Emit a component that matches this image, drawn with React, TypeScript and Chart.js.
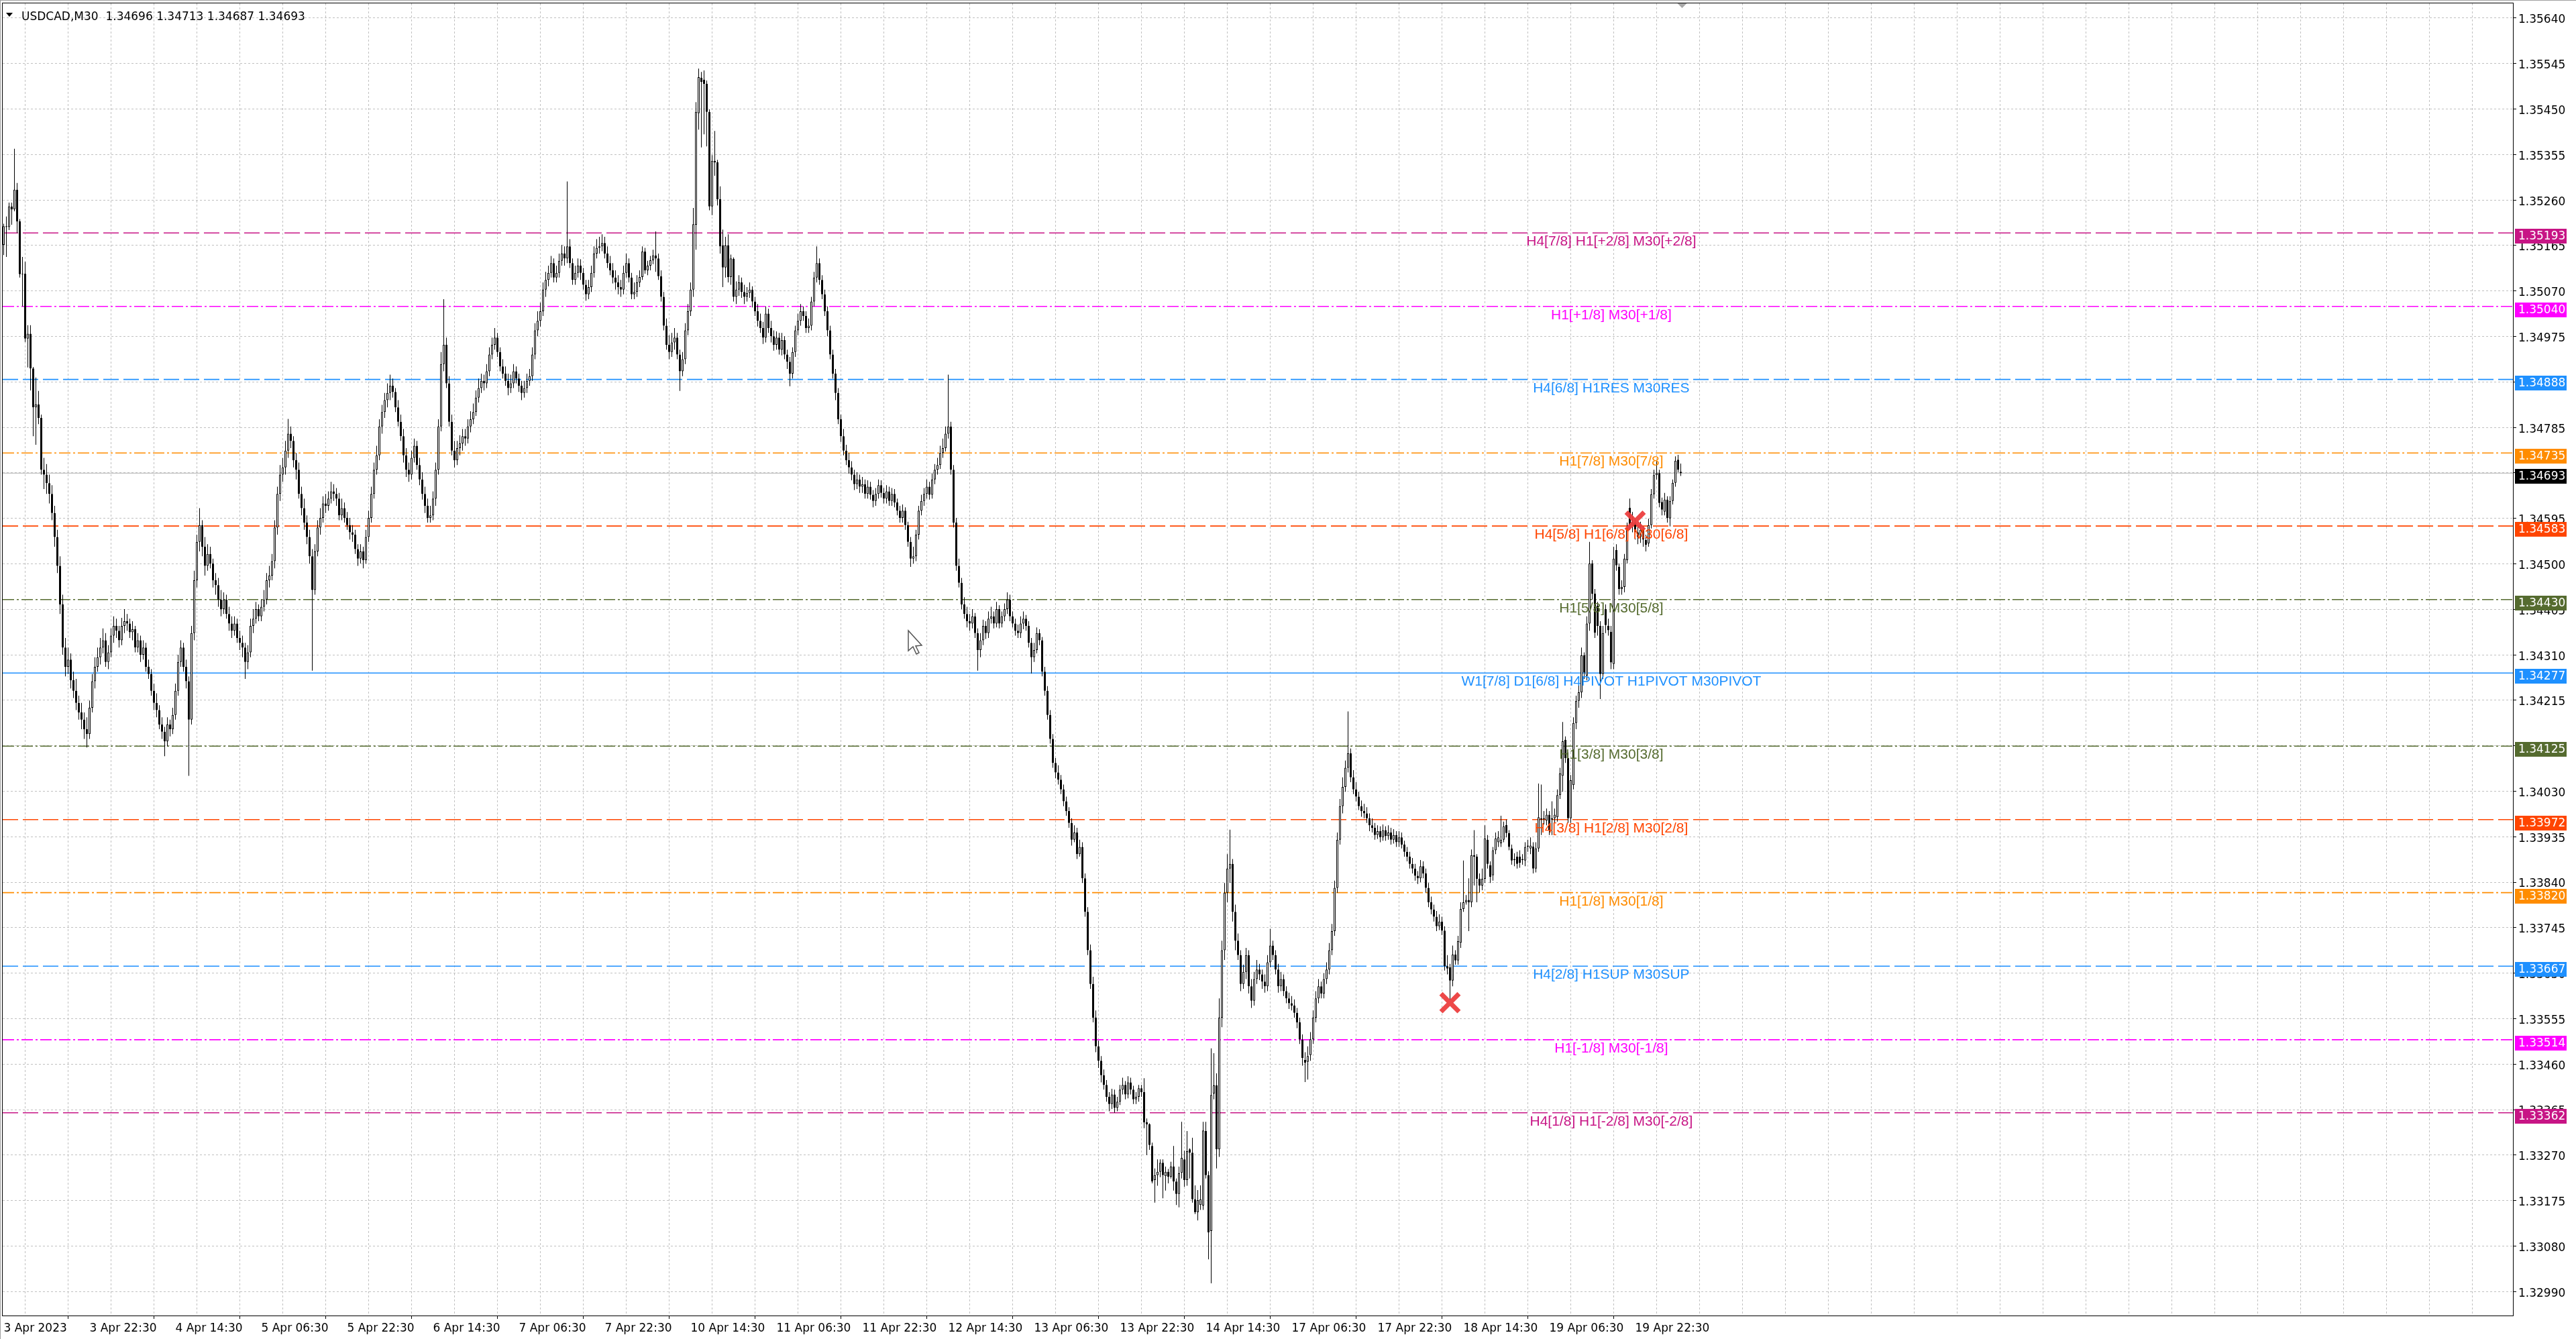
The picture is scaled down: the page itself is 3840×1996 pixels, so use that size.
import React, { useEffect, useRef } from "react";
import { Chart, registerables } from "chart.js";

Chart.register(...registerables);

// ---------------- DATA ----------------
const SYMBOL = "USDCAD,M30";
const PRICE_BASE = 1.3; // prices below are in points (1e-5) above 1.30000
const POINT = 0.00001;

// time-axis labels, one every 32 bars (16 hours of M30 bars)
const timeLabels = [
  "3 Apr 2023", "3 Apr 22:30", "4 Apr 14:30", "5 Apr 06:30", "5 Apr 22:30",
  "6 Apr 14:30", "7 Apr 06:30", "7 Apr 22:30", "10 Apr 14:30", "11 Apr 06:30",
  "11 Apr 22:30", "12 Apr 14:30", "13 Apr 06:30", "13 Apr 22:30", "14 Apr 14:30",
  "17 Apr 06:30", "17 Apr 22:30", "18 Apr 14:30", "19 Apr 06:30", "19 Apr 22:30",
];

// price-axis labels, top to bottom
const priceTickLabels = [
  "1.35640", "1.35545", "1.35450", "1.35355", "1.35260", "1.35165", "1.35070",
  "1.34975", "1.34880", "1.34785", "1.34690", "1.34595", "1.34500", "1.34405",
  "1.34310", "1.34215", "1.34120", "1.34030", "1.33935", "1.33840", "1.33745",
  "1.33650", "1.33555", "1.33460", "1.33365", "1.33270", "1.33175", "1.33080",
  "1.32990",
];

const opens = [
  5168,5207,5205,5248,5242,5283,5217,5107,5108,4973,
  4983,4911,4830,4836,4808,4700,4690,4672,4650,4610,
  4560,4500,4420,4330,4290,4305,4262,4240,4215,4195,
  4180,4160,4150,4205,4260,4290,4310,4330,4345,4300,
  4320,4355,4375,4365,4345,4375,4385,4380,4362,4368,
  4330,4345,4315,4330,4290,4275,4240,4215,4200,4170,
  4155,4135,4170,4160,4190,4240,4300,4330,4290,4260,
  4180,4360,4470,4550,4585,4540,4500,4525,4505,4470,
  4460,4430,4410,4430,4400,4380,4365,4380,4350,4340,
  4330,4300,4320,4375,4390,4410,4395,4415,4430,4470,
  4480,4510,4580,4650,4690,4705,4740,4775,4760,4720,
  4700,4650,4620,4590,4560,4520,4450,4530,4580,4600,
  4630,4625,4640,4655,4650,4640,4605,4620,4600,4585,
  4570,4565,4535,4515,4530,4512,4560,4600,4650,4700,
  4730,4790,4820,4845,4860,4875,4862,4830,4800,4770,
  4730,4700,4690,4725,4750,4710,4680,4650,4625,4600,
  4605,4640,4700,4790,4920,4960,4880,4800,4740,4720,
  4745,4755,4770,4765,4790,4805,4820,4850,4870,4885,
  4880,4905,4940,4960,4975,4945,4915,4900,4885,4870,
  4880,4905,4890,4875,4860,4870,4885,4895,4940,4990,
  5010,5030,5075,5095,5110,5130,5100,5110,5135,5150,
  5140,5165,5130,5095,5110,5125,5110,5085,5065,5080,
  5110,5150,5162,5165,5172,5150,5130,5115,5100,5090,
  5080,5075,5110,5130,5100,5065,5070,5090,5101,5154,
  5115,5125,5136,5146,5140,5103,5060,5000,4960,4945,
  4965,4975,4940,4905,4930,4990,5030,5075,5210,5442,
  5516,5512,5503,5445,5248,5343,5340,5263,5167,5121,
  5167,5101,5139,5060,5075,5090,5070,5060,5068,5075,
  5050,5030,5010,4995,4975,5025,4995,4978,4960,4975,
  4950,4970,4940,4925,4900,4945,4990,5010,5030,5020,
  4995,5000,5050,5100,5130,5095,5065,5030,4990,4940,
  4900,4860,4805,4770,4740,4720,4705,4690,4670,4680,
  4665,4670,4650,4665,4648,4635,4650,4668,4652,4640,
  4655,4635,4650,4632,4615,4600,4615,4585,4550,4515,
  4520,4565,4615,4635,4650,4665,4648,4680,4700,4710,
  4735,4745,4775,4790,4700,4590,4500,4465,4420,4400,
  4385,4380,4395,4360,4325,4345,4375,4360,4390,4395,
  4380,4410,4380,4395,4410,4430,4395,4380,4365,4360,
  4380,4390,4375,4340,4310,4325,4360,4345,4280,4240,
  4190,4140,4090,4070,4055,4035,4010,3990,3965,3930,
  3945,3900,3915,3850,3780,3700,3630,3560,3500,3470,
  3440,3420,3395,3380,3400,3372,3385,3410,3420,3400,
  3425,3410,3390,3395,3413,3405,3342,3338,3293,3222,
  3232,3239,3258,3230,3239,3229,3250,3219,3193,3237,
  3265,3222,3286,3279,3182,3155,3170,3169,3324,3232,
  3116,3402,3419,3286,3560,3700,3820,3870,3880,3780,
  3720,3690,3630,3655,3690,3625,3595,3640,3660,3650,
  3635,3625,3675,3710,3690,3660,3625,3640,3615,3600,
  3590,3585,3570,3550,3514,3472,3468,3482,3515,3560,
  3600,3625,3610,3640,3660,3700,3740,3830,3930,4000,
  4040,4080,4110,4060,4035,4020,4000,3990,3985,3975,
  3960,3955,3940,3948,3935,3950,3938,3945,3930,3940,
  3925,3935,3920,3905,3895,3880,3870,3855,3850,3875,
  3860,3830,3800,3785,3770,3750,3760,3741,3667,3665,
  3637,3691,3679,3716,3786,3800,3805,3800,3898,3895,
  3849,3835,3849,3930,3877,3856,3908,3925,3923,3930,
  3961,3944,3912,3890,3895,3895,3888,3887,3918,3912,
  3916,3870,3912,3975,3973,3970,3982,3975,3975,3977,
  4023,4063,4138,4100,3975,4044,4173,4219,4237,4314,
  4272,4380,4505,4442,4417,4375,4275,4410,4375,4363,
  4296,4533,4498,4452,4456,4512,4621,4585,4590,4570,
  4560,4575,4554,4547,4585,4649,4689,4693,4633,4613,
  4638,4599,4635,4673,4721,4696,
];

const highs = [
  5212,5227,5256,5256,5368,5297,5222,5143,5133,5001,
  5001,4914,4892,4864,4815,4725,4712,4690,4668,4625,
  4575,4520,4440,4350,4330,4318,4280,4265,4230,4215,
  4195,4185,4220,4275,4310,4330,4350,4370,4360,4335,
  4370,4395,4390,4375,4392,4410,4400,4390,4385,4375,
  4360,4355,4345,4340,4305,4285,4255,4235,4210,4185,
  4165,4185,4180,4205,4255,4315,4345,4340,4305,4270,
  4375,4490,4565,4620,4595,4560,4545,4540,4515,4485,
  4475,4450,4445,4440,4415,4395,4395,4390,4365,4355,
  4340,4335,4390,4410,4425,4420,4430,4450,4485,4500,
  4525,4595,4665,4710,4725,4760,4806,4790,4770,4735,
  4715,4665,4640,4605,4575,4535,4545,4595,4620,4645,
  4650,4655,4675,4670,4662,4652,4640,4632,4612,4600,
  4585,4575,4545,4545,4540,4575,4615,4665,4715,4750,
  4805,4835,4860,4880,4898,4890,4870,4845,4815,4785,
  4745,4715,4740,4765,4760,4725,4695,4665,4640,4625,
  4655,4715,4805,4945,5055,4975,4895,4815,4760,4760,
  4772,4785,4785,4805,4822,4838,4865,4890,4900,4898,
  4920,4955,4975,4995,4985,4955,4930,4915,4900,4898,
  4920,4915,4900,4885,4885,4900,4910,4955,5005,5030,
  5048,5090,5112,5125,5145,5140,5125,5150,5168,5165,
  5300,5180,5140,5125,5140,5138,5120,5095,5095,5125,
  5165,5180,5185,5190,5185,5165,5145,5130,5115,5105,
  5095,5125,5150,5140,5110,5090,5105,5115,5165,5162,
  5135,5145,5158,5196,5150,5115,5070,5015,4980,4985,
  4995,4985,4950,4945,5005,5045,5090,5245,5465,5535,
  5528,5531,5510,5450,5355,5405,5345,5290,5200,5185,
  5190,5148,5142,5092,5105,5100,5085,5080,5090,5082,
  5060,5045,5025,5008,5040,5035,5010,4990,4988,4985,
  4985,4978,4950,4935,4955,5000,5025,5045,5040,5030,
  5015,5060,5112,5165,5140,5105,5075,5040,5000,4950,
  4910,4870,4815,4785,4752,4735,4718,4700,4695,4690,
  4685,4680,4678,4675,4658,4662,4680,4678,4662,4668,
  4665,4662,4660,4640,4625,4628,4622,4592,4560,4540,
  4575,4625,4648,4662,4680,4675,4692,4712,4725,4750,
  4765,4790,4898,4800,4710,4600,4515,4475,4435,4415,
  4400,4410,4402,4370,4360,4388,4385,4405,4415,4405,
  4425,4418,4405,4422,4445,4440,4405,4390,4378,4395,
  4405,4398,4385,4350,4340,4372,4368,4352,4290,4250,
  4200,4150,4100,4085,4065,4045,4020,3998,3975,3960,
  3955,3930,3925,3860,3790,3712,3645,3575,3512,3480,
  3452,3430,3405,3412,3410,3395,3420,3435,3428,3438,
  3435,3418,3405,3420,3420,3434,3350,3340,3300,3246,
  3265,3265,3265,3250,3245,3260,3293,3225,3250,3343,
  3283,3324,3288,3310,3211,3201,3211,3343,3343,3240,
  3496,3486,3444,3600,3720,3840,3900,3951,3890,3795,
  3735,3700,3670,3705,3700,3640,3655,3680,3672,3660,
  3650,3690,3745,3720,3700,3672,3655,3650,3625,3612,
  3605,3598,3580,3560,3525,3488,3500,3530,3575,3615,
  3640,3635,3652,3675,3715,3755,3845,3945,4015,4060,
  4095,4197,4120,4075,4050,4030,4012,4005,3998,3985,
  3975,3965,3960,3958,3962,3958,3960,3955,3952,3948,
  3948,3945,3928,3915,3905,3892,3880,3865,3888,3885,
  3870,3840,3812,3795,3782,3775,3770,3750,3690,3672,
  3710,3700,3730,3800,3887,3815,3850,3910,3950,3900,
  3860,3870,3960,3940,3885,3915,3945,3948,3980,3968,
  3972,3950,3920,3902,3905,3908,3900,3925,3930,3935,
  3925,3925,4047,4045,3990,3995,3990,4010,3995,4035,
  4080,4175,4145,4112,4065,4185,4230,4260,4330,4320,
  4395,4550,4512,4452,4425,4385,4375,4420,4390,4375,
  4540,4545,4505,4470,4525,4590,4640,4612,4598,4585,
  4592,4582,4565,4598,4660,4700,4718,4700,4642,4652,
  4645,4645,4680,4728,4731,4713,
];

const lows = [
  5147,5143,5199,5210,5238,5193,5100,5040,4966,4913,
  4865,4770,4752,4795,4690,4660,4650,4630,4595,4540,
  4485,4400,4315,4270,4275,4245,4225,4200,4180,4160,
  4140,4122,4140,4195,4245,4280,4295,4318,4290,4285,
  4310,4340,4350,4330,4335,4360,4365,4350,4345,4320,
  4320,4300,4305,4280,4265,4230,4200,4185,4160,4140,
  4104,4125,4145,4150,4180,4230,4290,4280,4245,4063,
  4170,4345,4455,4530,4520,4480,4490,4495,4455,4440,
  4415,4395,4400,4390,4365,4350,4355,4340,4325,4310,
  4265,4285,4310,4360,4380,4385,4385,4405,4420,4455,
  4470,4495,4565,4635,4675,4690,4725,4745,4705,4680,
  4640,4605,4575,4545,4505,4282,4440,4520,4565,4590,
  4610,4615,4630,4635,4625,4595,4595,4590,4575,4555,
  4550,4525,4500,4505,4495,4505,4550,4590,4640,4690,
  4720,4775,4808,4830,4845,4850,4820,4790,4760,4715,
  4685,4675,4680,4715,4700,4668,4638,4610,4590,4590,
  4595,4625,4690,4780,4905,4870,4790,4730,4705,4710,
  4730,4740,4750,4755,4778,4795,4812,4840,4860,4865,
  4870,4895,4930,4950,4935,4905,4890,4875,4855,4860,
  4870,4880,4862,4845,4850,4860,4875,4885,4930,4978,
  4998,5020,5060,5082,5100,5090,5090,5100,5125,5125,
  5130,5120,5085,5085,5100,5095,5075,5052,5055,5070,
  5100,5140,5150,5155,5140,5120,5105,5088,5075,5065,
  5060,5065,5100,5090,5055,5055,5060,5080,5095,5108,
  5105,5115,5128,5112,5095,5050,4990,4950,4930,4935,
  4950,4930,4864,4895,4920,4980,5020,5060,5158,5408,
  5371,5398,5373,5240,5230,5312,5250,5150,5080,5100,
  5090,5085,5050,5045,5062,5058,5045,5050,5058,5038,
  5020,4998,4985,4962,4965,4985,4965,4948,4950,4940,
  4938,4930,4910,4874,4890,4935,4980,5000,5010,4985,
  4985,4990,5040,5090,5085,5055,5020,4978,4930,4890,
  4845,4795,4758,4730,4710,4692,4678,4658,4660,4652,
  4652,4640,4640,4638,4622,4625,4640,4642,4630,4630,
  4625,4625,4622,4605,4590,4590,4575,4540,4498,4505,
  4510,4555,4605,4625,4640,4638,4640,4670,4690,4702,
  4725,4738,4765,4690,4580,4490,4455,4410,4390,4372,
  4365,4370,4350,4282,4310,4335,4348,4350,4380,4370,
  4372,4370,4372,4385,4400,4385,4372,4355,4350,4350,
  4368,4365,4330,4276,4300,4318,4335,4270,4230,4180,
  4130,4080,4058,4045,4025,4000,3980,3955,3918,3925,
  3890,3895,3840,3770,3690,3620,3550,3488,3455,3425,
  3410,3385,3365,3370,3362,3365,3378,3400,3390,3392,
  3400,3380,3380,3385,3395,3330,3274,3285,3215,3175,
  3210,3228,3184,3200,3215,3225,3200,3170,3165,3225,
  3208,3210,3225,3175,3151,3138,3160,3160,3225,3057,
  3007,3390,3246,3270,3540,3680,3800,3840,3760,3700,
  3680,3615,3620,3640,3610,3580,3585,3630,3638,3620,
  3612,3615,3665,3680,3650,3612,3615,3605,3590,3578,
  3575,3560,3538,3505,3460,3426,3431,3470,3505,3550,
  3590,3600,3600,3630,3650,3690,3730,3820,3920,3985,
  4030,4070,4050,4025,4010,3992,3978,3975,3965,3948,
  3945,3930,3932,3925,3928,3928,3930,3920,3922,3915,
  3915,3912,3895,3885,3870,3860,3845,3838,3842,3850,
  3820,3790,3775,3760,3740,3742,3732,3658,3650,3598,
  3625,3670,3670,3705,3780,3795,3740,3790,3835,3800,
  3820,3825,3840,3870,3840,3845,3900,3915,3915,3925,
  3935,3908,3878,3875,3870,3872,3878,3875,3905,3900,
  3860,3862,3905,3940,3962,3960,3940,3940,3965,3968,
  4015,4030,4090,3965,3965,4035,4160,4205,4225,4265,
  4262,4365,4430,4350,4355,4223,4265,4360,4355,4285,
  4285,4490,4440,4440,4445,4505,4575,4570,4555,4545,
  4548,4540,4530,4540,4578,4640,4680,4622,4605,4605,
  4590,4582,4628,4665,4695,4687,
];

const closes = [
  5207,5205,5248,5242,5283,5217,5107,5108,4973,4983,
  4911,4830,4836,4808,4700,4690,4672,4650,4610,4560,
  4500,4420,4330,4290,4305,4262,4240,4215,4195,4180,
  4160,4150,4205,4260,4290,4310,4330,4345,4300,4320,
  4355,4375,4365,4345,4375,4385,4380,4362,4368,4330,
  4345,4315,4330,4290,4275,4240,4215,4200,4170,4155,
  4135,4170,4160,4190,4240,4300,4330,4290,4260,4180,
  4360,4470,4550,4585,4540,4500,4525,4505,4470,4460,
  4430,4410,4430,4400,4380,4365,4380,4350,4340,4330,
  4300,4320,4375,4390,4410,4395,4415,4430,4470,4480,
  4510,4580,4650,4690,4705,4740,4775,4760,4720,4700,
  4650,4620,4590,4560,4520,4450,4530,4580,4600,4630,
  4625,4640,4655,4650,4640,4605,4620,4600,4585,4570,
  4565,4535,4515,4530,4512,4560,4600,4650,4700,4730,
  4790,4820,4845,4860,4875,4862,4830,4800,4770,4730,
  4700,4690,4725,4750,4710,4680,4650,4625,4600,4605,
  4640,4700,4790,4920,4960,4880,4800,4740,4720,4745,
  4755,4770,4765,4790,4805,4820,4850,4870,4885,4880,
  4905,4940,4960,4975,4945,4915,4900,4885,4870,4880,
  4905,4890,4875,4860,4870,4885,4895,4940,4990,5010,
  5030,5075,5095,5110,5130,5100,5110,5135,5150,5140,
  5165,5130,5095,5110,5125,5110,5085,5065,5080,5110,
  5150,5162,5165,5172,5150,5130,5115,5100,5090,5080,
  5075,5110,5130,5100,5065,5070,5090,5101,5154,5115,
  5125,5136,5146,5140,5103,5060,5000,4960,4945,4965,
  4975,4940,4905,4930,4990,5030,5075,5211,5445,5517,
  5507,5503,5445,5248,5343,5340,5263,5165,5121,5167,
  5101,5140,5060,5075,5090,5070,5060,5068,5075,5050,
  5030,5010,4995,4975,5025,4995,4978,4960,4975,4950,
  4970,4940,4925,4900,4945,4990,5010,5030,5020,4995,
  5000,5050,5100,5130,5095,5065,5030,4990,4940,4900,
  4860,4805,4770,4740,4720,4705,4690,4670,4680,4665,
  4670,4650,4665,4648,4635,4650,4668,4652,4640,4655,
  4635,4650,4632,4615,4600,4615,4585,4550,4515,4520,
  4565,4615,4635,4650,4665,4648,4680,4700,4710,4735,
  4745,4775,4790,4700,4590,4500,4465,4420,4400,4385,
  4380,4395,4360,4325,4345,4375,4360,4390,4395,4380,
  4410,4380,4395,4410,4430,4395,4380,4365,4360,4380,
  4390,4375,4340,4310,4325,4360,4345,4280,4240,4190,
  4140,4090,4070,4055,4035,4010,3990,3965,3930,3945,
  3900,3915,3850,3780,3700,3630,3560,3500,3470,3440,
  3420,3395,3380,3400,3372,3385,3410,3420,3400,3425,
  3410,3390,3395,3413,3405,3342,3338,3295,3219,3232,
  3239,3258,3232,3239,3229,3250,3219,3193,3236,3268,
  3222,3282,3279,3182,3155,3180,3182,3325,3232,3113,
  3399,3419,3286,3560,3700,3820,3870,3880,3780,3720,
  3690,3630,3655,3690,3625,3595,3640,3660,3650,3635,
  3625,3675,3710,3690,3660,3625,3640,3615,3600,3590,
  3585,3570,3550,3515,3476,3466,3480,3515,3560,3600,
  3625,3610,3640,3660,3700,3740,3830,3930,4000,4040,
  4080,4110,4060,4035,4020,4000,3990,3985,3975,3960,
  3955,3940,3948,3935,3950,3938,3945,3930,3940,3925,
  3935,3920,3905,3895,3880,3870,3855,3850,3875,3860,
  3830,3800,3785,3770,3750,3760,3741,3667,3662,3637,
  3691,3679,3719,3786,3800,3805,3800,3898,3895,3849,
  3835,3849,3933,3880,3853,3908,3933,3935,3930,3958,
  3944,3915,3887,3888,3880,3882,3890,3915,3916,3918,
  3870,3912,3977,3972,3975,3982,3950,3972,3982,4023,
  4068,4135,4100,3975,4054,4173,4219,4237,4314,4278,
  4380,4505,4442,4361,4375,4275,4360,4377,4366,4299,
  4515,4501,4452,4456,4515,4579,4585,4590,4570,4560,
  4575,4555,4544,4585,4649,4689,4693,4631,4617,4638,
  4600,4635,4673,4719,4700,4693,
];

// Murrey-math style levels drawn by the indicator
const levelPrices = [
  1.35193, 1.3504, 1.34888, 1.34735, 1.34583, 1.3443, 1.34277,
  1.34125, 1.33972, 1.3382, 1.33667, 1.33514, 1.33362,
];
const levelNames = [
  "H4[7/8] H1[+2/8] M30[+2/8]",
  "H1[+1/8] M30[+1/8]",
  "H4[6/8] H1RES M30RES",
  "H1[7/8] M30[7/8]",
  "H4[5/8] H1[6/8] M30[6/8]",
  "H1[5/8] M30[5/8]",
  "W1[7/8] D1[6/8] H4PIVOT H1PIVOT M30PIVOT",
  "H1[3/8] M30[3/8]",
  "H4[3/8] H1[2/8] M30[2/8]",
  "H1[1/8] M30[1/8]",
  "H4[2/8] H1SUP M30SUP",
  "H1[-1/8] M30[-1/8]",
  "H4[1/8] H1[-2/8] M30[-2/8]",
];

// red cross markers (bar index, price)
const markerBars = [608, 539];
const markerPrices = [1.34593, 1.33591];

// ---------------- STYLES / LAYOUT ----------------
const C_MVR = "#C71585";
const C_MAG = "#FF00FF";
const C_BLUE = "#1E90FF";
const C_ORG = "#FF8C00";
const C_RED = "#FF4500";
const C_OLIVE = "#556B2F";
const levelColors = [C_MVR, C_MAG, C_BLUE, C_ORG, C_RED, C_OLIVE, C_BLUE, C_OLIVE, C_RED, C_ORG, C_BLUE, C_MAG, C_MVR];
const DASH = [23, 7];
const DASHDOT = [17, 4, 3, 4];
const levelDashes = [DASH, DASHDOT, DASH, DASHDOT, DASH, DASHDOT, [], DASHDOT, DASH, DASHDOT, DASH, DASHDOT, DASH];

const W = 3840;
const H = 1996;
const PLOT_LEFT = 4;
const PLOT_TOP = 5;
const PLOT_RIGHT = 3746;
const PLOT_BOTTOM = 1961;
const BAR_PX = 4;
const X_MIN = -0.375;
const X_MAX = X_MIN + (PLOT_RIGHT - PLOT_LEFT) / BAR_PX;
const Y_MAX = 1.356707;
const Y_MIN = 1.3294;
const LABEL_X = 599.1;
const BOX_SHIFT = 5;
const AXIS_FONT = { family: "'DejaVu Sans', sans-serif", size: 17 };
const AXIS_FONT_CSS = "17px 'DejaVu Sans', sans-serif";
const LEVEL_FONT_CSS = "21px 'Liberation Sans', Arial, sans-serif";

const toPrice = (v: number) => +(PRICE_BASE + v * POINT).toFixed(5);

export default function App() {
  const ref = useRef<HTMLCanvasElement | null>(null);

  useEffect(() => {
    const canvas = ref.current;
    if (!canvas) return;
    const n = closes.length;
    const idx = Array.from({ length: n }, (_, i) => i);
    const O = opens.map(toPrice);
    const Hh = highs.map(toPrice);
    const L = lows.map(toPrice);
    const Cc = closes.map(toPrice);
    const lastPrice = Cc[n - 1];

    const topTick = parseFloat(priceTickLabels[0]);
    const botTick = parseFloat(priceTickLabels[priceTickLabels.length - 1]);
    const yTickValues = priceTickLabels
      .map((_, k) => topTick - ((topTick - botTick) * k) / (priceTickLabels.length - 1))
      .reverse();
    const xGrid: number[] = [];
    for (let v = 0; v <= X_MAX; v += 16) xGrid.push(v);
    const isLabelled = (v: number) => v % 32 === 0 && v / 32 < timeLabels.length;

    const overlay = {
      id: "mt4overlay",
      beforeDraw(chart: any) {
        const { ctx } = chart;
        ctx.save();
        ctx.fillStyle = "#ffffff";
        ctx.fillRect(0, 0, chart.width, chart.height);
        ctx.restore();
      },
      afterDatasetsDraw(chart: any) {
        const { ctx, scales } = chart;
        const cx = scales.x.getPixelForValue(LABEL_X);
        ctx.save();
        ctx.font = LEVEL_FONT_CSS;
        ctx.textAlign = "center";
        ctx.textBaseline = "alphabetic";
        levelPrices.forEach((p, k) => {
          const y = scales.y.getPixelForValue(p);
          ctx.fillStyle = levelColors[k];
          ctx.fillText(levelNames[k], cx, y + 19);
        });
        ctx.restore();
      },
      afterDraw(chart: any) {
        const { ctx, scales, chartArea } = chart;
        ctx.save();
        // plot frame
        ctx.strokeStyle = "#000";
        ctx.lineWidth = 1;
        ctx.strokeRect(chartArea.left - 0.5, chartArea.top - 0.5, chartArea.right - chartArea.left + 1, chartArea.bottom - chartArea.top + 1);
        // outer window frame
        ctx.strokeStyle = "#a0a0a0";
        ctx.beginPath();
        ctx.moveTo(0.5, 0);
        ctx.lineTo(0.5, H);
        ctx.moveTo(0, 0.5);
        ctx.lineTo(W, 0.5);
        ctx.stroke();
        // price boxes on the right axis
        const boxes = levelPrices.map((p, k) => ({ p, c: levelColors[k] }));
        boxes.push({ p: lastPrice, c: "#000000" });
        ctx.font = AXIS_FONT_CSS;
        ctx.textAlign = "left";
        ctx.textBaseline = "middle";
        boxes.forEach((b) => {
          const y = Math.round(scales.y.getPixelForValue(b.p)) + BOX_SHIFT;
          ctx.fillStyle = b.c;
          ctx.fillRect(PLOT_RIGHT + 3, y - 11, 77, 22);
          ctx.fillStyle = "#ffffff";
          ctx.fillText(b.p.toFixed(5), PLOT_RIGHT + 8, y + 1);
        });
        // header
        const f = (v: number) => v.toFixed(5);
        ctx.fillStyle = "#000";
        ctx.textBaseline = "alphabetic";
        ctx.fillText(`${SYMBOL}  ${f(O[n - 1])} ${f(Hh[n - 1])} ${f(L[n - 1])} ${f(Cc[n - 1])}`, 32, 30);
        ctx.beginPath();
        ctx.moveTo(9, 19);
        ctx.lineTo(19, 19);
        ctx.lineTo(14, 25);
        ctx.closePath();
        ctx.fill();
        // chart shift marker
        const sx = scales.x.getPixelForValue(n - 1) + 2;
        ctx.fillStyle = "#a8a8a8";
        ctx.beginPath();
        ctx.moveTo(sx - 7, chartArea.top);
        ctx.lineTo(sx + 7, chartArea.top);
        ctx.lineTo(sx, chartArea.top + 7);
        ctx.closePath();
        ctx.fill();
        // mouse pointer left on the screenshot
        const px = 1354, py = 940;
        ctx.beginPath();
        ctx.moveTo(px, py);
        ctx.lineTo(px, py + 30);
        ctx.lineTo(px + 7, py + 24);
        ctx.lineTo(px + 12, py + 35);
        ctx.lineTo(px + 16, py + 33);
        ctx.lineTo(px + 11, py + 23);
        ctx.lineTo(px + 20, py + 22);
        ctx.closePath();
        ctx.fillStyle = "#ffffff";
        ctx.fill();
        ctx.strokeStyle = "#555";
        ctx.lineWidth = 1.5;
        ctx.stroke();
        ctx.restore();
      },
    };

    const datasets: any[] = [];
    levelPrices.forEach((p, k) => {
      datasets.push({
        type: "line",
        data: [{ x: X_MIN, y: p }, { x: X_MAX, y: p }],
        borderColor: levelColors[k],
        borderWidth: 1.6,
        borderDash: levelDashes[k],
        pointRadius: 0,
        order: 6,
      });
    });
    datasets.push({
      type: "line",
      data: [{ x: X_MIN, y: lastPrice }, { x: X_MAX, y: lastPrice }],
      borderColor: "#c0c0c0",
      borderWidth: 1.4,
      pointRadius: 0,
      order: 7,
    });
    datasets.push({
      type: "bar",
      data: idx.map((i) => ({ x: i, y: [L[i], Hh[i]] })),
      backgroundColor: "#000",
      barThickness: 1,
      grouped: false,
      inflateAmount: 0,
      order: 3,
    });
    datasets.push({
      type: "bar",
      data: idx.map((i) => ({ x: i, y: [O[i], Cc[i]] })),
      backgroundColor: idx.map((i) => (Cc[i] >= O[i] ? "#ffffff" : "#000000")),
      borderColor: "#000",
      borderWidth: 1,
      borderSkipped: false,
      barThickness: 3,
      grouped: false,
      inflateAmount: 0,
      order: 2,
    });
    datasets.push({
      type: "line",
      data: markerBars.map((b, k) => ({ x: b, y: markerPrices[k] })),
      showLine: false,
      pointStyle: "crossRot",
      pointRadius: 19,
      pointBorderWidth: 7,
      pointBorderColor: "rgba(236,62,62,0.95)",
      pointBackgroundColor: "rgba(236,62,62,0.95)",
      order: 1,
    });

    const chart = new Chart(canvas, {
      type: "bar",
      data: { datasets },
      plugins: [overlay],
      options: {
        responsive: false,
        maintainAspectRatio: false,
        devicePixelRatio: 1,
        animation: false,
        events: [],
        layout: { autoPadding: false, padding: { left: PLOT_LEFT, top: PLOT_TOP, right: 0, bottom: 0 } },
        plugins: { legend: { display: false }, tooltip: { enabled: false } },
        scales: {
          x: {
            type: "linear",
            min: X_MIN,
            max: X_MAX,
            offset: false,
            afterBuildTicks: (s: any) => {
              s.ticks = xGrid.map((v) => ({ value: v }));
            },
            afterFit: (s: any) => {
              s.height = H - PLOT_BOTTOM;
              s.paddingLeft = 0;
              s.paddingRight = 0;
            },
            grid: {
              color: "#c0c0c0",
              lineWidth: 1,
              tickLength: 5,
              tickWidth: 1,
              tickColor: (c: any) => (c.tick && isLabelled(c.tick.value) ? "#000" : "rgba(0,0,0,0)"),
            },
            border: { display: true, color: "#000", width: 1, dash: [3, 3] },
            ticks: {
              autoSkip: false,
              maxRotation: 0,
              minRotation: 0,
              align: "start",
              padding: 4,
              color: "#000",
              font: AXIS_FONT,
              callback: (v: any) => (isLabelled(v) ? timeLabels[v / 32] : ""),
            },
          },
          y: {
            type: "linear",
            position: "right",
            min: Y_MIN,
            max: Y_MAX,
            afterBuildTicks: (s: any) => {
              s.ticks = yTickValues.map((v) => ({ value: v }));
            },
            afterFit: (s: any) => {
              s.width = W - PLOT_RIGHT;
              s.paddingTop = 0;
              s.paddingBottom = 0;
            },
            grid: { color: "#c0c0c0", lineWidth: 1, tickLength: 5, tickColor: "#000" },
            border: { display: true, color: "#000", width: 1, dash: [3, 3] },
            ticks: {
              padding: 3,
              labelOffset: 3,
              color: "#000",
              font: AXIS_FONT,
              callback: (_v: any, i: number) => priceTickLabels[priceTickLabels.length - 1 - i],
            },
          },
        },
      } as any,
    });

    let alive = true;
    if ((document as any).fonts && (document as any).fonts.ready) {
      (document as any).fonts.ready.then(() => {
        if (alive) chart.update();
      });
    }
    return () => {
      alive = false;
      chart.destroy();
    };
  }, []);

  return (
    <div style={{ position: "fixed", left: 0, top: 0, width: W, height: H, background: "#fff" }}>
      <canvas ref={ref} width={W} height={H} style={{ display: "block", width: W, height: H }} />
    </div>
  );
}
